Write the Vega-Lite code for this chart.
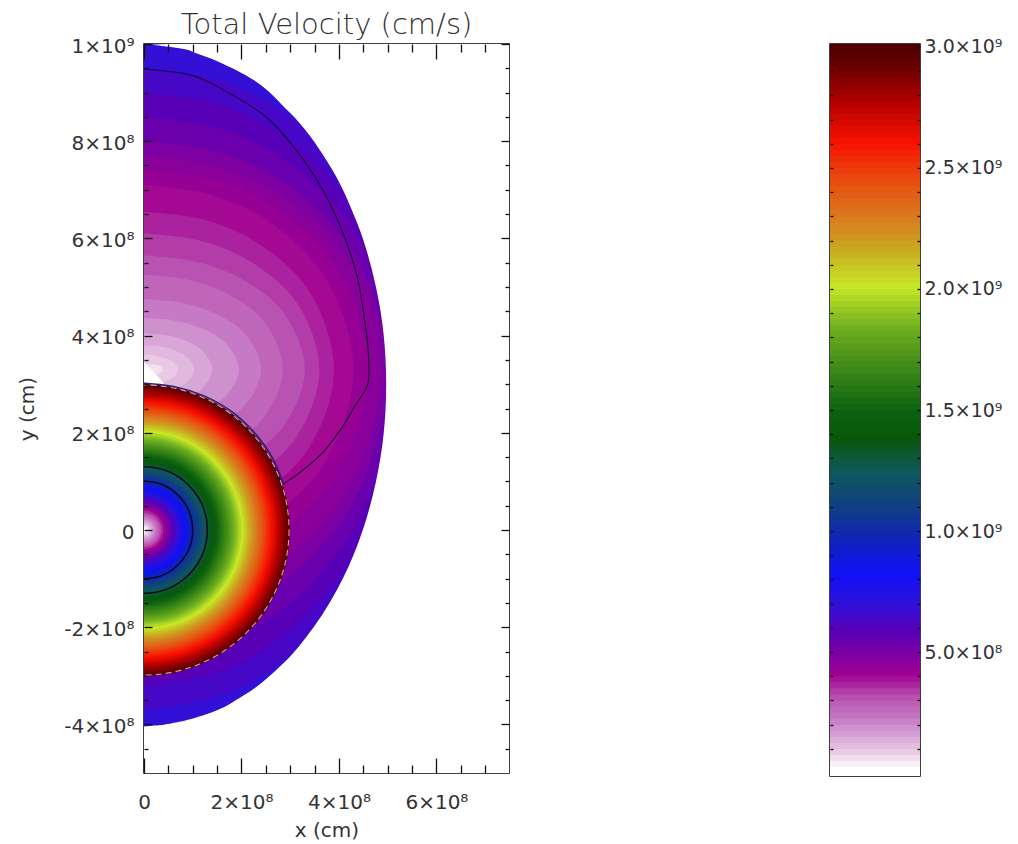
{
"$schema":"https://vega.github.io/schema/vega-lite/v6.json",
"background":"white",
"padding":{"left":16,"top":10,"right":0,"bottom":0},
"bounds":"flush",
"spacing":321,
"config":{"view":{"stroke":"#000","strokeWidth":1.5},"axis":{"labelFont":"DejaVu Sans","labelFontSize":20,"labelColor":"#333","titleFont":"DejaVu Sans","titleFontSize":20,"titleColor":"#333","titleFontWeight":"normal","grid":false,"domain":false,"tickColor":"#111","tickWidth":1.3,"labelOverlap":false,"labelBound":false,"labelFlush":false}},
"datasets":{
"levels":[
{"v":7e8,"y":-4.1e8,"x":0},{"v":7e8,"y":-3.73e8,"x":1.81e8},{"v":7e8,"y":-2.62e8,"x":3.48e8},{"v":7e8,"y":-0.4e8,"x":5.02e8},{"v":7e8,"y":3.3e8,"x":5.8e8},{"v":7e8,"y":6.65e8,"x":5.02e8},{"v":7e8,"y":8.66e8,"x":3.48e8},{"v":7e8,"y":9.67e8,"x":1.81e8},{"v":7e8,"y":10e8,"x":0},
{"v":6.5e8,"y":-3.7e8,"x":0},{"v":6.5e8,"y":-3.35e8,"x":1.72e8},{"v":6.5e8,"y":-2.3e8,"x":3.3e8},{"v":6.5e8,"y":-0.2e8,"x":4.76e8},{"v":6.5e8,"y":3.3e8,"x":5.5e8},{"v":6.5e8,"y":6.4e8,"x":4.76e8},{"v":6.5e8,"y":8.26e8,"x":3.3e8},{"v":6.5e8,"y":9.19e8,"x":1.72e8},{"v":6.5e8,"y":9.5e8,"x":0},
{"v":6e8,"y":-3.2e8,"x":0},{"v":6e8,"y":-2.88e8,"x":1.65e8},{"v":6e8,"y":-1.9e8,"x":3.18e8},{"v":6e8,"y":0.05e8,"x":4.59e8},{"v":6e8,"y":3.3e8,"x":5.3e8},{"v":6e8,"y":6.15e8,"x":4.59e8},{"v":6e8,"y":7.86e8,"x":3.18e8},{"v":6e8,"y":8.72e8,"x":1.65e8},{"v":6e8,"y":9e8,"x":0},
{"v":5.5e8,"y":-2.6e8,"x":0},{"v":5.5e8,"y":-2.3e8,"x":1.61e8},{"v":5.5e8,"y":-1.42e8,"x":3.09e8},{"v":5.5e8,"y":0.35e8,"x":4.46e8},{"v":5.5e8,"y":3.3e8,"x":5.15e8},{"v":5.5e8,"y":5.9e8,"x":4.46e8},{"v":5.5e8,"y":7.46e8,"x":3.09e8},{"v":5.5e8,"y":8.24e8,"x":1.61e8},{"v":5.5e8,"y":8.5e8,"x":0},
{"v":5e8,"y":-2e8,"x":0},{"v":5e8,"y":-1.74e8,"x":1.56e8},{"v":5e8,"y":-0.94e8,"x":3e8},{"v":5e8,"y":0.65e8,"x":4.33e8},{"v":5e8,"y":3.3e8,"x":5e8},{"v":5e8,"y":5.65e8,"x":4.33e8},{"v":5e8,"y":7.06e8,"x":3e8},{"v":5e8,"y":7.77e8,"x":1.56e8},{"v":5e8,"y":8e8,"x":0},
{"v":4.7e8,"y":-1.5e8,"x":0},{"v":4.7e8,"y":-1.26e8,"x":1.52e8},{"v":4.7e8,"y":-0.54e8,"x":2.92e8},{"v":4.7e8,"y":0.9e8,"x":4.22e8},{"v":4.7e8,"y":3.3e8,"x":4.87e8},{"v":4.7e8,"y":5.5e8,"x":4.22e8},{"v":4.7e8,"y":6.82e8,"x":2.92e8},{"v":4.7e8,"y":7.48e8,"x":1.52e8},{"v":4.7e8,"y":7.7e8,"x":0},
{"v":4.4e8,"y":-0.9e8,"x":0},{"v":4.4e8,"y":-0.69e8,"x":1.44e8},{"v":4.4e8,"y":-0.06e8,"x":2.76e8},{"v":4.4e8,"y":1.2e8,"x":3.98e8},{"v":4.4e8,"y":3.3e8,"x":4.6e8},{"v":4.4e8,"y":5.35e8,"x":3.98e8},{"v":4.4e8,"y":6.58e8,"x":2.76e8},{"v":4.4e8,"y":7.2e8,"x":1.44e8},{"v":4.4e8,"y":7.4e8,"x":0},
{"v":4.1e8,"y":-0.5e8,"x":0},{"v":4.1e8,"y":-0.31e8,"x":1.34e8},{"v":4.1e8,"y":0.26e8,"x":2.58e8},{"v":4.1e8,"y":1.4e8,"x":3.72e8},{"v":4.1e8,"y":3.3e8,"x":4.3e8},{"v":4.1e8,"y":5.2e8,"x":3.72e8},{"v":4.1e8,"y":6.34e8,"x":2.58e8},{"v":4.1e8,"y":6.91e8,"x":1.34e8},{"v":4.1e8,"y":7.1e8,"x":0},
{"v":3.8e8,"y":0.05e8,"x":0},{"v":3.8e8,"y":0.21e8,"x":1.22e8},{"v":3.8e8,"y":0.7e8,"x":2.34e8},{"v":3.8e8,"y":1.68e8,"x":3.38e8},{"v":3.8e8,"y":3.3e8,"x":3.9e8},{"v":3.8e8,"y":4.93e8,"x":3.38e8},{"v":3.8e8,"y":5.9e8,"x":2.34e8},{"v":3.8e8,"y":6.39e8,"x":1.22e8},{"v":3.8e8,"y":6.55e8,"x":0},
{"v":3.5e8,"y":0.5e8,"x":0},{"v":3.5e8,"y":0.64e8,"x":1.12e8},{"v":3.5e8,"y":1.06e8,"x":2.16e8},{"v":3.5e8,"y":1.9e8,"x":3.12e8},{"v":3.5e8,"y":3.3e8,"x":3.6e8},{"v":3.5e8,"y":4.7e8,"x":3.12e8},{"v":3.5e8,"y":5.54e8,"x":2.16e8},{"v":3.5e8,"y":5.96e8,"x":1.12e8},{"v":3.5e8,"y":6.1e8,"x":0},
{"v":3.2e8,"y":0.95e8,"x":0},{"v":3.2e8,"y":1.07e8,"x":1.03e8},{"v":3.2e8,"y":1.42e8,"x":1.98e8},{"v":3.2e8,"y":2.13e8,"x":2.86e8},{"v":3.2e8,"y":3.3e8,"x":3.3e8},{"v":3.2e8,"y":4.48e8,"x":2.86e8},{"v":3.2e8,"y":5.18e8,"x":1.98e8},{"v":3.2e8,"y":5.53e8,"x":1.03e8},{"v":3.2e8,"y":5.65e8,"x":0},
{"v":2.8e8,"y":1.35e8,"x":0},{"v":2.8e8,"y":1.45e8,"x":0.89e8},{"v":2.8e8,"y":1.74e8,"x":1.71e8},{"v":2.8e8,"y":2.33e8,"x":2.47e8},{"v":2.8e8,"y":3.3e8,"x":2.85e8},{"v":2.8e8,"y":4.28e8,"x":2.47e8},{"v":2.8e8,"y":4.86e8,"x":1.71e8},{"v":2.8e8,"y":5.15e8,"x":0.89e8},{"v":2.8e8,"y":5.25e8,"x":0},
{"v":2.4e8,"y":1.85e8,"x":0},{"v":2.4e8,"y":1.92e8,"x":0.75e8},{"v":2.4e8,"y":2.14e8,"x":1.44e8},{"v":2.4e8,"y":2.58e8,"x":2.08e8},{"v":2.4e8,"y":3.3e8,"x":2.4e8},{"v":2.4e8,"y":4.03e8,"x":2.08e8},{"v":2.4e8,"y":4.46e8,"x":1.44e8},{"v":2.4e8,"y":4.68e8,"x":0.75e8},{"v":2.4e8,"y":4.75e8,"x":0},
{"v":2e8,"y":2.24e8,"x":0},{"v":2e8,"y":2.29e8,"x":0.61e8},{"v":2e8,"y":2.45e8,"x":1.17e8},{"v":2e8,"y":2.77e8,"x":1.69e8},{"v":2e8,"y":3.3e8,"x":1.95e8},{"v":2e8,"y":3.83e8,"x":1.69e8},{"v":2e8,"y":4.15e8,"x":1.17e8},{"v":2e8,"y":4.31e8,"x":0.61e8},{"v":2e8,"y":4.36e8,"x":0},
{"v":1.6e8,"y":2.55e8,"x":0},{"v":1.6e8,"y":2.59e8,"x":0.44e8},{"v":1.6e8,"y":2.7e8,"x":0.84e8},{"v":1.6e8,"y":2.93e8,"x":1.21e8},{"v":1.6e8,"y":3.3e8,"x":1.4e8},{"v":1.6e8,"y":3.68e8,"x":1.21e8},{"v":1.6e8,"y":3.9e8,"x":0.84e8},{"v":1.6e8,"y":4.01e8,"x":0.44e8},{"v":1.6e8,"y":4.05e8,"x":0},
{"v":1.3e8,"y":2.8e8,"x":0},{"v":1.3e8,"y":2.83e8,"x":0.32e8},{"v":1.3e8,"y":2.9e8,"x":0.62e8},{"v":1.3e8,"y":3.05e8,"x":0.89e8},{"v":1.3e8,"y":3.3e8,"x":1.03e8},{"v":1.3e8,"y":3.55e8,"x":0.89e8},{"v":1.3e8,"y":3.7e8,"x":0.62e8},{"v":1.3e8,"y":3.78e8,"x":0.32e8},{"v":1.3e8,"y":3.8e8,"x":0},
{"v":1e8,"y":3e8,"x":0},{"v":1e8,"y":3.02e8,"x":0.22e8},{"v":1e8,"y":3.06e8,"x":0.42e8},{"v":1e8,"y":3.15e8,"x":0.61e8},{"v":1e8,"y":3.3e8,"x":0.7e8},{"v":1e8,"y":3.45e8,"x":0.61e8},{"v":1e8,"y":3.54e8,"x":0.42e8},{"v":1e8,"y":3.59e8,"x":0.22e8},{"v":1e8,"y":3.6e8,"x":0},
{"v":0.7e8,"y":3.18e8,"x":0},{"v":0.7e8,"y":3.19e8,"x":0.12e8},{"v":0.7e8,"y":3.2e8,"x":0.24e8},{"v":0.7e8,"y":3.24e8,"x":0.35e8},{"v":0.7e8,"y":3.3e8,"x":0.4e8},{"v":0.7e8,"y":3.36e8,"x":0.35e8},{"v":0.7e8,"y":3.4e8,"x":0.24e8},{"v":0.7e8,"y":3.41e8,"x":0.12e8},{"v":0.7e8,"y":3.42e8,"x":0},
{"v":0.3e8,"y":2.9e8,"x":0.5e8},{"v":0.3e8,"y":3.2e8,"x":0.25e8},{"v":0.3e8,"y":3.45e8,"x":0}
],
"outer":[{"y":-5e8,"x":0},{"y":-4.05e8,"x":0},{"y":-4.02e8,"x":0.3e8},{"y":-3.95e8,"x":0.7e8},{"y":-3.8e8,"x":1.25e8},{"y":-3.4e8,"x":2.05e8},{"y":-2.8e8,"x":2.8e8},{"y":-2e8,"x":3.48e8},{"y":-1e8,"x":4.08e8},{"y":0,"x":4.49e8},{"y":1e8,"x":4.76e8},{"y":2e8,"x":4.92e8},{"y":3e8,"x":4.97e8},{"y":4e8,"x":4.92e8},{"y":5e8,"x":4.76e8},{"y":6.3e8,"x":4.38e8},{"y":7.6e8,"x":3.75e8},{"y":8.6e8,"x":2.98e8},{"y":9.4e8,"x":2.01e8},{"y":9.8e8,"x":1.1e8},{"y":9.97e8,"x":0.55e8},{"y":10e8,"x":0}],
"contour":[{"i":1,"x":0,"y":9.48e8},{"i":2,"x":1.03e8,"y":9.34e8},{"i":3,"x":1.85e8,"y":8.93e8},{"i":4,"x":2.53e8,"y":8.48e8},{"i":5,"x":3.08e8,"y":7.87e8},{"i":6,"x":3.56e8,"y":7.18e8},{"i":7,"x":4.04e8,"y":6.22e8},{"i":8,"x":4.38e8,"y":5.19e8},{"i":9,"x":4.52e8,"y":4.37e8},{"i":10,"x":4.6e8,"y":3.68e8},{"i":11,"x":4.59e8,"y":3e8},{"i":12,"x":4.31e8,"y":2.52e8},{"i":13,"x":4.11e8,"y":2.18e8},{"i":14,"x":3.7e8,"y":1.63e8},{"i":15,"x":3.22e8,"y":1.2e8},{"i":16,"x":2.84e8,"y":0.93e8}],
"rim":[{"i":1,"x":0,"y":3.02e8},{"i":2,"x":0.63e8,"y":2.95e8},{"i":3,"x":1.23e8,"y":2.76e8},{"i":4,"x":1.78e8,"y":2.45e8},{"i":5,"x":2.25e8,"y":2.02e8},{"i":6,"x":2.62e8,"y":1.51e8},{"i":7,"x":2.87e8,"y":0.93e8}],
"star":[{"r":3e8,"v":2.98e9},{"r":2.95e8,"v":2.925e9},{"r":2.9e8,"v":2.875e9},{"r":2.85e8,"v":2.825e9},{"r":2.8e8,"v":2.775e9},{"r":2.75e8,"v":2.725e9},{"r":2.7e8,"v":2.675e9},{"r":2.65e8,"v":2.625e9},{"r":2.6e8,"v":2.575e9},{"r":2.55e8,"v":2.525e9},{"r":2.5e8,"v":2.475e9},{"r":2.45e8,"v":2.425e9},{"r":2.4e8,"v":2.375e9},{"r":2.35e8,"v":2.325e9},{"r":2.3e8,"v":2.275e9},{"r":2.25e8,"v":2.225e9},{"r":2.2e8,"v":2.175e9},{"r":2.15e8,"v":2.125e9},{"r":2.1e8,"v":2.075e9},{"r":2.05e8,"v":2.025e9},{"r":2e8,"v":1.975e9},{"r":1.95e8,"v":1.925e9},{"r":1.9e8,"v":1.875e9},{"r":1.85e8,"v":1.825e9},{"r":1.8e8,"v":1.775e9},{"r":1.75e8,"v":1.725e9},{"r":1.7e8,"v":1.675e9},{"r":1.65e8,"v":1.625e9},{"r":1.6e8,"v":1.575e9},{"r":1.55e8,"v":1.525e9},{"r":1.5e8,"v":1.475e9},{"r":1.45e8,"v":1.425e9},{"r":1.4e8,"v":1.375e9},{"r":1.35e8,"v":1.325e9},{"r":1.3e8,"v":1.275e9},{"r":1.25e8,"v":1.225e9},{"r":1.2e8,"v":1.175e9},{"r":1.15e8,"v":1.125e9},{"r":1.1e8,"v":1.075e9},{"r":1.05e8,"v":1.025e9},{"r":1e8,"v":9.75e8},{"r":0.95e8,"v":9.25e8},{"r":0.9e8,"v":8.75e8},{"r":0.85e8,"v":8.25e8},{"r":0.8e8,"v":7.75e8},{"r":0.75e8,"v":7.25e8},{"r":0.7e8,"v":6.75e8},{"r":0.65e8,"v":6.25e8},{"r":0.6e8,"v":5.75e8},{"r":0.55e8,"v":5.25e8},{"r":0.5e8,"v":4.75e8},{"r":0.45e8,"v":4.25e8},{"r":0.4e8,"v":3.75e8},{"r":0.35e8,"v":3.25e8},{"r":0.3e8,"v":2.75e8},{"r":0.25e8,"v":2.25e8},{"r":0.2e8,"v":1.75e8},{"r":0.15e8,"v":1.25e8},{"r":0.1e8,"v":0.75e8},{"r":0.05e8,"v":0.25e8}],
"bar":[{"t":3.02e9},{"t":3e9},{"t":2.975e9},{"t":2.95e9},{"t":2.925e9},{"t":2.9e9},{"t":2.875e9},{"t":2.85e9},{"t":2.825e9},{"t":2.8e9},{"t":2.775e9},{"t":2.75e9},{"t":2.725e9},{"t":2.7e9},{"t":2.675e9},{"t":2.65e9},{"t":2.625e9},{"t":2.6e9},{"t":2.575e9},{"t":2.55e9},{"t":2.525e9},{"t":2.5e9},{"t":2.475e9},{"t":2.45e9},{"t":2.425e9},{"t":2.4e9},{"t":2.375e9},{"t":2.35e9},{"t":2.325e9},{"t":2.3e9},{"t":2.275e9},{"t":2.25e9},{"t":2.225e9},{"t":2.2e9},{"t":2.175e9},{"t":2.15e9},{"t":2.125e9},{"t":2.1e9},{"t":2.075e9},{"t":2.05e9},{"t":2.025e9},{"t":2e9},{"t":1.975e9},{"t":1.95e9},{"t":1.925e9},{"t":1.9e9},{"t":1.875e9},{"t":1.85e9},{"t":1.825e9},{"t":1.8e9},{"t":1.775e9},{"t":1.75e9},{"t":1.725e9},{"t":1.7e9},{"t":1.675e9},{"t":1.65e9},{"t":1.625e9},{"t":1.6e9},{"t":1.575e9},{"t":1.55e9},{"t":1.525e9},{"t":1.5e9},{"t":1.475e9},{"t":1.45e9},{"t":1.425e9},{"t":1.4e9},{"t":1.375e9},{"t":1.35e9},{"t":1.325e9},{"t":1.3e9},{"t":1.275e9},{"t":1.25e9},{"t":1.225e9},{"t":1.2e9},{"t":1.175e9},{"t":1.15e9},{"t":1.125e9},{"t":1.1e9},{"t":1.075e9},{"t":1.05e9},{"t":1.025e9},{"t":1e9},{"t":9.75e8},{"t":9.5e8},{"t":9.25e8},{"t":9e8},{"t":8.75e8},{"t":8.5e8},{"t":8.25e8},{"t":8e8},{"t":7.75e8},{"t":7.5e8},{"t":7.25e8},{"t":7e8},{"t":6.75e8},{"t":6.5e8},{"t":6.25e8},{"t":6e8},{"t":5.75e8},{"t":5.5e8},{"t":5.25e8},{"t":5e8},{"t":4.75e8},{"t":4.5e8},{"t":4.25e8},{"t":4e8},{"t":3.75e8},{"t":3.5e8},{"t":3.25e8},{"t":3e8},{"t":2.75e8},{"t":2.5e8},{"t":2.25e8},{"t":2e8},{"t":1.75e8},{"t":1.5e8},{"t":1.25e8},{"t":1e8},{"t":0.75e8},{"t":0.5e8},{"t":0.25e8}]
},
"hconcat":[
{"width":365,"height":729,
"title":{"text":"Total Velocity (cm/s)","font":"DejaVu Sans","fontSize":29,"fontWeight":200,"color":"#333","offset":-4},
"resolve":{"axis":{"x":"independent","y":"independent"}},
"layer":[
{"data":{"name":"levels"},"mark":{"type":"area","orient":"horizontal","interpolate":"catmull-rom","clip":true},
"encoding":{
"x":{"field":"x","type":"quantitative","stack":null,"scale":{"domain":[0,7.49e8],"nice":false,"zero":false},
"title":"x (cm)","axis":{"zindex":1,"orient":"bottom","values":[0,2e8,4e8,6e8],"labelExpr":"datum.value==0?'0':(datum.value/1e8)+'×10⁸'","tickSize":-15,"labelPadding":34,"titleY":47,"titlePadding":0}},
"x2":{"datum":0},
"y":{"field":"y","type":"quantitative","scale":{"domain":[-5e8,10e8],"nice":false,"zero":false},
"title":"y (cm)","axis":{"zindex":1,"orient":"left","values":[-4e8,-2e8,0,2e8,4e8,6e8,8e8,10e8],"labelExpr":"datum.value==0?'0':(datum.value==1e9?'1×10⁹':(datum.value/1e8)+'×10⁸')","tickSize":-8,"labelPadding":18,"labelOffset":2,"titleX":-107,"titlePadding":0}},
"detail":{"field":"v"},
"color":{"field":"v","type":"quantitative","legend":null,"scale":{"interpolate":"rgb","domain":[0,3.5e7,6e7,1.03e8,2.27e8,3.26e8,4.2e8,4.9e8,6e8,7.1e8,8.35e8,9.6e8,1.12e9,1.25e9,1.4e9,1.5e9,1.69e9,1.855e9,2.02e9,2.157e9,2.29e9,2.46e9,2.62e9,2.79e9,2.95e9,3.02e9],"range":["#ffffff","#ffffff","#f4e8f4","#e8c8e4","#c880c8","#b850b0","#a00090","#8000a0","#5800b8","#3010d8","#1010f8","#1020c0","#104080","#105860","#085808","#0a6010","#3f8a18","#70b020","#c8e828","#c8b020","#d88020","#e84c10","#f81000","#b00000","#600000","#500000"]}}
}},
{"data":{"name":"outer"},"mark":{"type":"area","orient":"horizontal","interpolate":"monotone","clip":true,"color":"white"},
"encoding":{
"x":{"field":"x","type":"quantitative","stack":null,"axis":{"zindex":1,"orient":"top","title":null,"labels":false,"values":[0,2e8,4e8,6e8],"tickSize":-15}},
"x2":{"datum":7.49e8},
"y":{"field":"y","type":"quantitative","axis":{"zindex":1,"orient":"right","title":null,"labels":false,"values":[-4e8,-2e8,0,2e8,4e8,6e8,8e8,10e8],"tickSize":-8}}
}},
{"data":{"name":"contour"},"mark":{"type":"line","color":"#1a0030","strokeWidth":1.1,"clip":true,"interpolate":"catmull-rom"},
"encoding":{"x":{"field":"x","type":"quantitative","axis":{"zindex":1,"orient":"bottom","title":null,"labels":false,"values":[0.5e8,1e8,1.5e8,2.5e8,3e8,3.5e8,4.5e8,5e8,5.5e8,6.5e8,7e8],"tickSize":-8}},"y":{"field":"y","type":"quantitative","axis":{"zindex":1,"orient":"left","title":null,"labels":false,"values":[-4.5e8,-3.5e8,-3e8,-2.5e8,-1.5e8,-1e8,-0.5e8,0.5e8,1e8,1.5e8,2.5e8,3e8,3.5e8,4.5e8,5e8,5.5e8,6.5e8,7e8,7.5e8,8.5e8,9e8,9.5e8],"tickSize":-4}},"order":{"field":"i"}}},
{"data":{"name":"star"},"mark":{"type":"circle","clip":true,"opacity":1},
"encoding":{"x":{"datum":0,"axis":null},"y":{"datum":0,"axis":null},
"size":{"field":"r","type":"quantitative","legend":null,"scale":{"type":"pow","exponent":2,"domain":[0,3e8],"range":[0,85264]}},
"color":{"field":"v","type":"quantitative","legend":null}}},
{"data":{"values":[{"r":1e8},{"r":1.3e8}]},"mark":{"type":"point","clip":true,"shape":"circle","filled":false,"opacity":1,"stroke":"#0a0a20","strokeWidth":1.5},
"encoding":{"x":{"datum":0,"axis":null},"y":{"datum":0,"axis":null},
"size":{"field":"r","type":"quantitative","legend":null}}},
{"data":{"name":"rim"},"mark":{"type":"line","color":"#202080","strokeWidth":1.5,"clip":true,"interpolate":"catmull-rom"},
"encoding":{"x":{"field":"x","type":"quantitative","axis":{"zindex":1,"orient":"top","title":null,"labels":false,"values":[0.5e8,1e8,1.5e8,2.5e8,3e8,3.5e8,4.5e8,5e8,5.5e8,6.5e8,7e8],"tickSize":-8}},"y":{"field":"y","type":"quantitative","axis":{"zindex":1,"orient":"right","title":null,"labels":false,"values":[-4.5e8,-3.5e8,-3e8,-2.5e8,-1.5e8,-1e8,-0.5e8,0.5e8,1e8,1.5e8,2.5e8,3e8,3.5e8,4.5e8,5e8,5.5e8,6.5e8,7e8,7.5e8,8.5e8,9e8,9.5e8],"tickSize":-4}},"order":{"field":"i"}}},
{"data":{"values":[{"r":2.98e8}]},"mark":{"type":"point","clip":true,"shape":"circle","filled":false,"opacity":0.85,"stroke":"#eec0b0","strokeWidth":1.1,"strokeDash":[6,4]},
"encoding":{"x":{"datum":0,"axis":null},"y":{"datum":0,"axis":null},
"size":{"field":"r","type":"quantitative","legend":null}}}
]},
{"width":90,"height":732,
"resolve":{"axis":{"y":"independent"}},
"layer":[
{"data":{"name":"bar"},"mark":{"type":"rect","clip":true},
"encoding":{
"x":{"datum":0,"scale":{"domain":[0,1],"nice":false},"axis":null},
"x2":{"datum":1},
"y":{"field":"t","type":"quantitative","scale":{"domain":[-1.2e7,3.012e9],"nice":false,"zero":false},"title":null,
"axis":{"zindex":1,"orient":"right","values":[1e8,2e8,3e8,4e8,5e8,6e8,7e8,8e8,9e8,1e9,1.1e9,1.2e9,1.3e9,1.4e9,1.5e9,1.6e9,1.7e9,1.8e9,1.9e9,2e9,2.1e9,2.2e9,2.3e9,2.4e9,2.5e9,2.6e9,2.7e9,2.8e9,2.9e9,3e9],"labelExpr":"datum.value==5e8?'5.0×10⁸':(datum.value%5e8==0?format(datum.value/1e9,'.1f')+'×10⁹':'')","labelFontSize":19,"tickSize":-3,"labelPadding":7}},
"y2":{"datum":-1.2e7},
"color":{"field":"t","type":"quantitative","legend":null,"scale":{"interpolate":"rgb","domain":[0,3.5e7,6e7,1.03e8,2.27e8,3.26e8,4.2e8,4.9e8,6e8,7.1e8,8.35e8,9.6e8,1.12e9,1.25e9,1.4e9,1.5e9,1.69e9,1.855e9,2.02e9,2.157e9,2.29e9,2.46e9,2.62e9,2.79e9,2.95e9,3.02e9],"range":["#ffffff","#ffffff","#f4e8f4","#e8c8e4","#c880c8","#b850b0","#a00090","#8000a0","#5800b8","#3010d8","#1010f8","#1020c0","#104080","#105860","#085808","#0a6010","#3f8a18","#70b020","#c8e828","#c8b020","#d88020","#e84c10","#f81000","#b00000","#600000","#500000"]}}
}},
{"data":{"values":[{"t":0}]},"mark":{"type":"point","opacity":0},
"encoding":{"x":{"datum":0,"axis":null},"y":{"field":"t","type":"quantitative","axis":{"zindex":1,"orient":"left","title":null,"labels":false,"values":[1e8,2e8,3e8,4e8,5e8,6e8,7e8,8e8,9e8,1e9,1.1e9,1.2e9,1.3e9,1.4e9,1.5e9,1.6e9,1.7e9,1.8e9,1.9e9,2e9,2.1e9,2.2e9,2.3e9,2.4e9,2.5e9,2.6e9,2.7e9,2.8e9,2.9e9,3e9],"tickSize":-3}}}}
]}
]
}
